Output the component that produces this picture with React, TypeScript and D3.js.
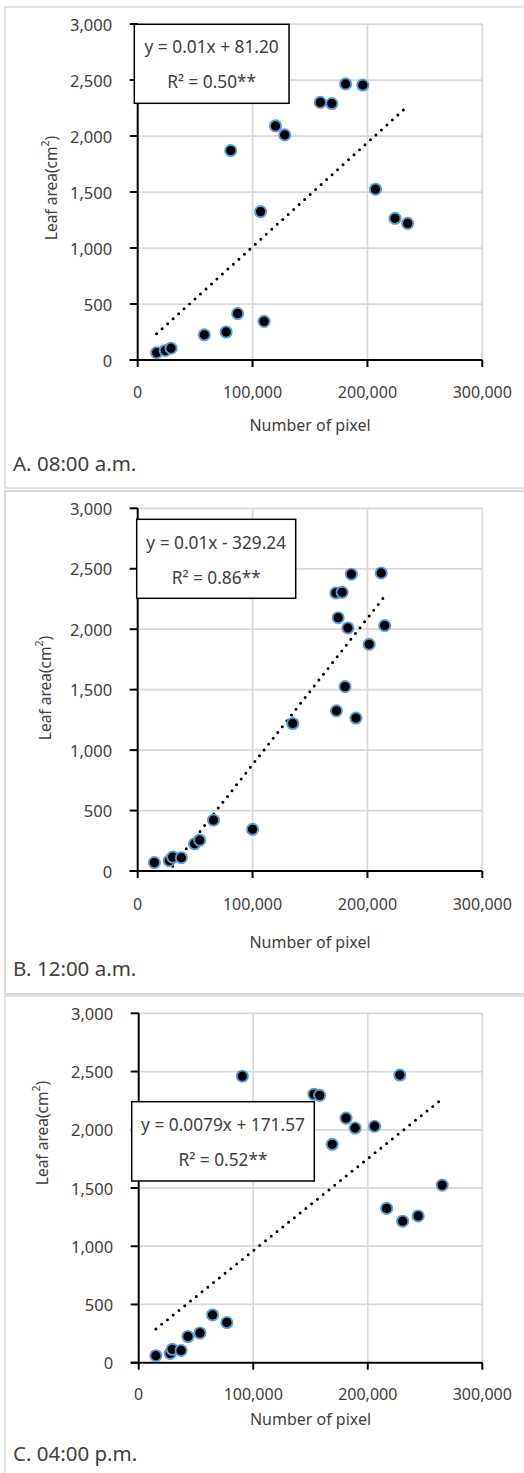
import React from 'react';
import * as d3 from 'd3';

// shared axis ticks
const xTicks = [0, 100000, 200000, 300000];
const yTicks = [0, 500, 1000, 1500, 2000, 2500, 3000];

// A. 08:00 a.m.
const pixelsA = [16500, 24000, 29000, 58000, 77000, 87000, 110000, 107000, 81000, 120000, 128000, 159000, 169000, 181000, 196000, 207000, 224000, 235000];
const areaA = [65, 85, 105, 225, 250, 415, 345, 1325, 1870, 2090, 2010, 2300, 2290, 2465, 2455, 1525, 1265, 1220];

// B. 12:00 a.m.
const pixelsB = [14500, 27500, 30500, 38000, 49500, 54000, 66000, 100000, 135000, 173000, 180500, 190000, 201500, 174500, 183000, 215000, 172500, 178000, 186000, 212000];
const areaB = [70, 85, 115, 110, 225, 255, 420, 345, 1220, 1325, 1525, 1265, 1875, 2095, 2010, 2030, 2300, 2305, 2455, 2465];

// C. 04:00 p.m.
const pixelsC = [15000, 27500, 29300, 37000, 43000, 53500, 64500, 77000, 90500, 153000, 158000, 169000, 181000, 189000, 206000, 228000, 216500, 230500, 244000, 265000];
const areaC = [60, 80, 115, 105, 225, 255, 410, 345, 2460, 2305, 2295, 1875, 2100, 2015, 2030, 2470, 1325, 1215, 1260, 1525];

// trend lines as drawn (slope, intercept)
const trendA = [0.0093, 81.2];
const trendB = [0.0121, -329.24];
const trendC = [0.0079, 171.57];

const equations = ['y = 0.01x + 81.20', 'y = 0.01x - 329.24', 'y = 0.0079x + 171.57'];
const rSquared = ['R² = 0.50**', 'R² = 0.86**', 'R² = 0.52**'];
const captions = ['A. 08:00 a.m.', 'B. 12:00 a.m.', 'C. 04:00 p.m.'];

const FONT = '"Noto Sans", "Open Sans", sans-serif';
const TEXT = '#404040';
const GRID = '#d9d9d9';

const layouts = [
  { x0: 137.7, x1: 482.3, top: 24, bottom: 360, box: [134.3, 24.3, 154.7, 79], lines: [46.7, 81.7], tickY: 31.7, titleY: 425, capY: 463, yLab: [51, 188] },
  { x0: 137.7, x1: 482.3, top: 508.3, bottom: 871, box: [136.7, 519.3, 159, 79], lines: [542.3, 577.3], tickY: 33, titleY: 941.7, capY: 968.3, yLab: [45, 688] },
  { x0: 138.7, x1: 482.3, top: 1013.3, bottom: 1362.7, box: [131.7, 1101.7, 182.6, 79.3], lines: [1124.3, 1159.3], tickY: 31.5, titleY: 1419, capY: 1452.7, yLab: [42, 1133] },
];

const fmt = d3.format(',');

const Panel = ({ idx, xs, ys, trend }) => {
  const L = layouts[idx];
  const x = d3.scaleLinear().domain([0, 300000]).range([L.x0, L.x1]);
  const y = d3.scaleLinear().domain([0, 3000]).range([L.bottom, L.top]);
  const [xmin, xmax] = d3.extent(xs);
  const line = d3.line().x((d) => x(d)).y((d) => y(trend[0] * d + trend[1]));
  const [bx, by, bw, bh] = L.box;
  const clipId = 'plot-clip-' + idx;
  return (
    <g>
      <defs>
        <clipPath id={clipId}>
          <rect x={x(0)} y={y(3000)} width={x(300000) - x(0)} height={y(0) - y(3000)} />
        </clipPath>
      </defs>
      {yTicks.slice(1).map((t) => (
        <line key={'gy' + t} x1={x(0)} x2={x(300000)} y1={y(t)} y2={y(t)} stroke={GRID} strokeWidth={1.75} />
      ))}
      {xTicks.slice(1).map((t) => (
        <line key={'gx' + t} x1={x(t)} x2={x(t)} y1={y(0)} y2={y(3000)} stroke={GRID} strokeWidth={1.75} />
      ))}
      <line x1={x(0)} x2={x(0)} y1={y(0)} y2={y(3000)} stroke="#000" strokeWidth={2} />
      <line x1={x(0) - 8} x2={x(300000)} y1={y(0)} y2={y(0)} stroke="#000" strokeWidth={2} />
      {yTicks.map((t) => (
        <g key={'ty' + t}>
          <line x1={x(0) - 8} x2={x(0)} y1={y(t)} y2={y(t)} stroke="#000" strokeWidth={2} />
          <text x={L.x0 - 25.5} y={y(t)} dominantBaseline="central" textAnchor="end" fontSize={16.5} fill={TEXT}>{fmt(t)}</text>
        </g>
      ))}
      {xTicks.map((t) => (
        <g key={'tx' + t}>
          <line x1={x(t)} x2={x(t)} y1={y(0)} y2={y(0) + 7} stroke="#000" strokeWidth={2} />
          <text x={x(t)} y={y(0) + L.tickY} dominantBaseline="central" textAnchor="middle" fontSize={16} fill={TEXT}>{fmt(t)}</text>
        </g>
      ))}
      <path d={line([xmin, xmax])} clipPath={`url(#${clipId})`} fill="none" stroke="#000" strokeWidth={3} strokeLinecap="round" strokeDasharray="0 7.4" />
      {xs.map((v, i) => (
        <circle key={i} cx={x(v)} cy={y(ys[i])} r={5.6} fill="#000" stroke="#5b9bd5" strokeWidth={1.9} />
      ))}
      <rect x={bx} y={by} width={bw} height={bh} fill="#fff" stroke="#000" strokeWidth={1.5} />
      <text x={bx + bw / 2} y={L.lines[0]} dominantBaseline="central" textAnchor="middle" fontSize={17.3} fill={TEXT}>{equations[idx]}</text>
      <text x={bx + bw / 2} y={L.lines[1]} dominantBaseline="central" textAnchor="middle" fontSize={17.3} fill={TEXT}>{rSquared[idx]}</text>
      <text x={(L.x0 + L.x1) / 2} y={L.titleY} dominantBaseline="central" textAnchor="middle" fontSize={16} fill={TEXT}>Number of pixel</text>
      <text transform={`translate(${L.yLab[0]},${L.yLab[1]}) rotate(-90)`} dominantBaseline="central" textAnchor="middle" fontSize={15.5} fill={TEXT}>
        Leaf area(cm<tspan fontSize={10.5} dy={-6}>2</tspan><tspan dy={6}>)</tspan>
      </text>
      <text x={13} y={L.capY} dominantBaseline="central" fontSize={20.5} fill={TEXT}>{captions[idx]}</text>
    </g>
  );
};

export default function App() {
  return (
    <svg width={524} height={1473} style={{ position: 'absolute', left: 0, top: 0, background: '#fff' }} fontFamily={FONT}>
      <rect x={0} y={0} width={524} height={1473} fill="#fff" />
      <rect x={5} y={7} width={600} height={481} fill="none" stroke={GRID} strokeWidth={1.5} />
      <rect x={5} y={491} width={600} height={503} fill="none" stroke={GRID} strokeWidth={2} />
      <rect x={5} y={996} width={600} height={600} fill="none" stroke={GRID} strokeWidth={1.5} />
      <Panel idx={0} xs={pixelsA} ys={areaA} trend={trendA} />
      <Panel idx={1} xs={pixelsB} ys={areaB} trend={trendB} />
      <Panel idx={2} xs={pixelsC} ys={areaC} trend={trendC} />
    </svg>
  );
}
